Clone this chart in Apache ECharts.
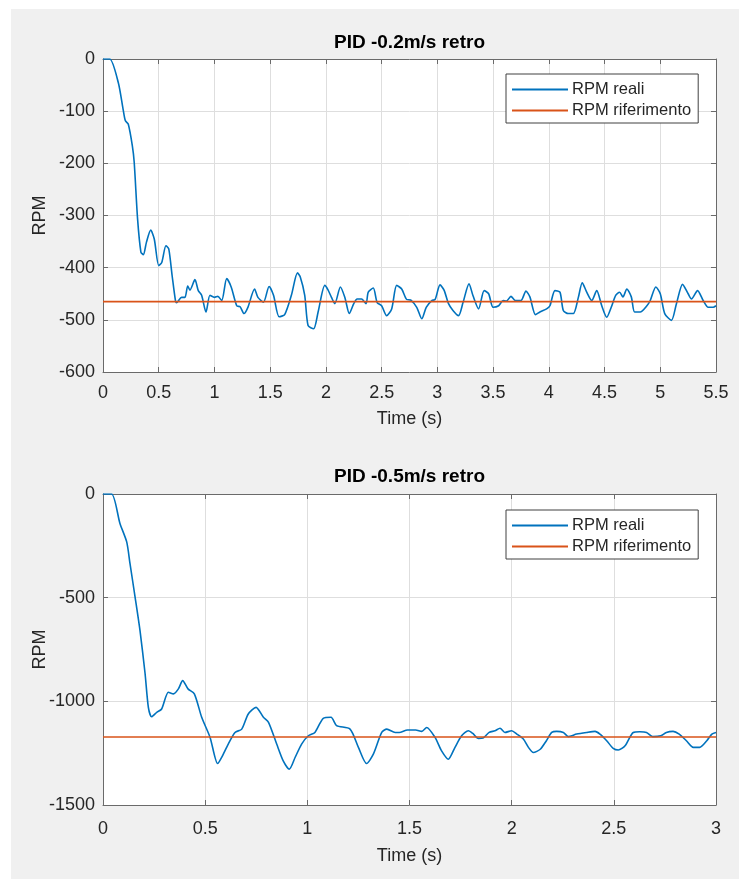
<!DOCTYPE html>
<html>
<head>
<meta charset="utf-8">
<script src="https://cdn.jsdelivr.net/npm/echarts@6/dist/echarts.min.js"></script>
<style>
  html, body { margin: 0; padding: 0; background: #ffffff; }
  #wrap { position: relative; width: 739px; height: 879px; background: #ffffff; overflow: hidden; }
  #bg { position: absolute; left: 11px; top: 9px; width: 728px; height: 870px; background: #f0f0f0; }
  #chart { position: absolute; left: 0; top: 0; width: 739px; height: 879px; }
</style>
</head>
<body>
<div id="wrap"><div id="bg"></div><div id="chart"></div></div>
<script>
// ---- Top chart: PID -0.2m/s retro ----
const topTitle = 'PID -0.2m/s retro';
const topTime = [0,0.06,0.137,0.18,0.20,0.227,0.263,0.28,0.31,0.34,0.362,0.39,0.428,0.46,0.50,0.527,0.565,0.59,0.62,0.65,0.66,0.705,0.735,0.76,0.78,0.825,0.855,0.885,0.924,0.96,1.0,1.03,1.065,1.11,1.15,1.2,1.23,1.265,1.30,1.36,1.39,1.44,1.49,1.53,1.58,1.63,1.69,1.745,1.77,1.81,1.84,1.89,1.93,1.99,2.02,2.05,2.08,2.13,2.17,2.21,2.25,2.28,2.32,2.36,2.38,2.425,2.46,2.5,2.545,2.59,2.635,2.68,2.725,2.76,2.815,2.86,2.9,2.95,2.98,3.024,3.06,3.1,3.14,3.19,3.23,3.284,3.32,3.37,3.42,3.46,3.50,3.55,3.59,3.62,3.66,3.70,3.75,3.795,3.83,3.88,3.92,3.98,4.01,4.055,4.1,4.13,4.175,4.22,4.265,4.30,4.34,4.385,4.43,4.475,4.52,4.56,4.60,4.635,4.665,4.70,4.74,4.77,4.82,4.88,4.91,4.96,5.0,5.04,5.10,5.145,5.20,5.25,5.28,5.335,5.385,5.43,5.475,5.50];
const topRpm = [0,0,-45,-96,-118,-125,-166,-198,-306,-370,-375,-351,-328,-345,-396,-390,-358,-364,-415,-463,-467,-457,-457,-435,-443,-423,-444,-453,-485,-453,-457,-455,-463,-421,-437,-473,-475,-488,-476,-441,-457,-466,-436,-453,-494,-490,-453,-410,-418,-453,-511,-517,-485,-434,-443,-457,-469,-437,-457,-488,-469,-460,-460,-469,-447,-439,-467,-473,-492,-479,-434,-441,-461,-462,-476,-498,-476,-463,-461,-433,-443,-469,-482,-492,-467,-431,-454,-479,-444,-450,-476,-473,-463,-464,-455,-463,-463,-445,-456,-490,-485,-479,-473,-444,-447,-482,-488,-488,-457,-429,-447,-463,-444,-473,-495,-476,-453,-447,-456,-441,-456,-485,-485,-473,-463,-437,-450,-488,-501,-469,-432,-450,-460,-444,-463,-476,-476,-473];
const topRefTime = [0, 5.5];
const topRefRpm = [-465, -465];
const topXTicks = { min: 0, max: 5.5, step: 0.5 };
const topYTicks = { min: -600, max: 0, step: 100 };

// ---- Bottom chart: PID -0.5m/s retro ----
const botTitle = 'PID -0.5m/s retro';
const botTime = [0,0.042,0.083,0.116,0.132,0.157,0.181,0.206,0.222,0.238,0.263,0.287,0.32,0.345,0.369,0.39,0.416,0.447,0.483,0.524,0.561,0.58,0.613,0.646,0.679,0.711,0.749,0.785,0.81,0.85,0.882,0.912,0.94,0.972,1.005,1.037,1.078,1.116,1.143,1.209,1.25,1.29,1.323,1.364,1.389,1.43,1.45,1.49,1.53,1.56,1.584,1.625,1.657,1.69,1.722,1.755,1.788,1.81,1.837,1.86,1.89,1.918,1.943,1.967,2.0,2.025,2.057,2.082,2.106,2.14,2.17,2.196,2.22,2.253,2.277,2.318,2.367,2.408,2.432,2.465,2.497,2.522,2.555,2.595,2.627,2.66,2.69,2.73,2.757,2.79,2.82,2.855,2.889,2.92,2.955,2.98,3.0];
const botRpm = [0,0,-142,-231,-335,-497,-658,-867,-1029,-1074,-1053,-1037,-956,-964,-940,-900,-940,-964,-1077,-1174,-1300,-1271,-1206,-1150,-1134,-1061,-1029,-1077,-1101,-1206,-1287,-1327,-1271,-1206,-1166,-1150,-1082,-1077,-1117,-1134,-1222,-1300,-1255,-1150,-1134,-1150,-1150,-1138,-1138,-1145,-1126,-1174,-1239,-1279,-1223,-1166,-1142,-1155,-1179,-1177,-1150,-1142,-1130,-1150,-1142,-1158,-1182,-1222,-1247,-1231,-1190,-1150,-1145,-1150,-1170,-1158,-1150,-1145,-1158,-1190,-1227,-1235,-1214,-1150,-1147,-1150,-1170,-1166,-1150,-1145,-1158,-1190,-1222,-1222,-1190,-1158,-1150];
const botRefTime = [0, 3];
const botRefRpm = [-1172, -1172];
const botXTicks = { min: 0, max: 3, step: 0.5 };
const botYTicks = { min: -1500, max: 0, step: 500 };

const seriesNames = ['RPM reali', 'RPM riferimento'];
const xName = 'Time (s)';
const yName = 'RPM';

const BLUE = '#0072BD', ORANGE = '#D95319';
const AXIS = '#6a6a6a', TEXT = '#262626', GRIDC = '#dedede';
const FONT = '"Liberation Sans", Arial, sans-serif';

const zip = (a, b) => a.map((v, i) => [v, b[i]]);
const plain = v => String(v);

const grids = [
  { left: 103, right: 23, top: 59, height: 313 },
  { left: 103, right: 23, top: 494, height: 311 }
];

function mainX(gi, t, margin, gap) {
  return {
    type: 'value', gridIndex: gi, min: t.min, max: t.max, interval: t.step,
    name: xName, nameLocation: 'middle', nameGap: gap, nameMoveOverlap: false,
    nameTextStyle: { fontFamily: FONT, fontSize: 18, color: TEXT },
    axisLine: { show: true, onZero: false, lineStyle: { color: AXIS, width: 1 } },
    axisTick: { show: true, inside: true, length: 5, lineStyle: { color: AXIS } },
    axisLabel: { fontFamily: FONT, fontSize: 18, color: TEXT, margin: margin, formatter: plain },
    splitLine: { show: true, lineStyle: { color: GRIDC, width: 1 } }
  };
}
function topX(gi, t) {
  return {
    type: 'value', gridIndex: gi, position: 'top', min: t.min, max: t.max, interval: t.step,
    axisLine: { show: true, onZero: false, lineStyle: { color: AXIS, width: 1 } },
    axisTick: { show: true, inside: true, length: 5, lineStyle: { color: AXIS } },
    axisLabel: { show: false }, splitLine: { show: false }
  };
}
function mainY(gi, t) {
  return {
    type: 'value', gridIndex: gi, min: t.min, max: t.max, interval: t.step,
    name: yName, nameLocation: 'middle', nameGap: 54, nameRotate: 90, nameMoveOverlap: false,
    nameTextStyle: { fontFamily: FONT, fontSize: 18, color: TEXT },
    axisLine: { show: true, onZero: false, lineStyle: { color: AXIS, width: 1 } },
    axisTick: { show: true, inside: true, length: 5, lineStyle: { color: AXIS } },
    axisLabel: { fontFamily: FONT, fontSize: 18, color: TEXT, margin: 8, formatter: plain },
    splitLine: { show: true, lineStyle: { color: GRIDC, width: 1 } }
  };
}
function rightY(gi, t) {
  return {
    type: 'value', gridIndex: gi, position: 'right', min: t.min, max: t.max, interval: t.step,
    axisLine: { show: true, onZero: false, lineStyle: { color: AXIS, width: 1 } },
    axisTick: { show: true, inside: true, length: 5, lineStyle: { color: AXIS } },
    axisLabel: { show: false }, splitLine: { show: false }
  };
}

function legendAt(top) {
  return {
    orient: 'vertical', left: 506, top: top,
    data: seriesNames.map(n => ({ name: n, icon: 'rect' })),
    itemWidth: 56, itemHeight: 2, itemGap: 4,
    padding: [7, 7, 4, 6],
    backgroundColor: '#ffffff', borderColor: '#404040', borderWidth: 1,
    textStyle: { fontFamily: FONT, fontSize: 16.5, color: TEXT, padding: [0, 0, 0, -1] },
    selectedMode: false
  };
}

function lineSeries(name, xi, data, color) {
  return {
    name: name, type: 'line', xAxisIndex: xi, yAxisIndex: xi,
    data: data, showSymbol: false, symbol: 'none', smooth: 0.25,
    lineStyle: { color: color, width: 1.6 }, itemStyle: { color: color },
    animation: false, silent: true
  };
}

const chart = echarts.init(document.getElementById('chart'), null, { renderer: 'canvas' });
chart.setOption({
  animation: false,
  backgroundColor: 'transparent',
  title: [
    { text: topTitle, left: 409.5, top: 33, textAlign: 'center', padding: 0,
      textStyle: { fontFamily: FONT, fontSize: 19, fontWeight: 'bold', color: '#000' } },
    { text: botTitle, left: 409.5, top: 467, textAlign: 'center', padding: 0,
      textStyle: { fontFamily: FONT, fontSize: 19, fontWeight: 'bold', color: '#000' } }
  ],
  legend: [legendAt(74), legendAt(510)],
  grid: grids.map(g => Object.assign({ show: true, backgroundColor: '#ffffff', borderWidth: 0 }, g)),
  xAxis: [mainX(0, topXTicks, 12, 38), mainX(1, botXTicks, 15, 42), topX(0, topXTicks), topX(1, botXTicks)],
  yAxis: [mainY(0, topYTicks), mainY(1, botYTicks), rightY(0, topYTicks), rightY(1, botYTicks)],
  series: [
    lineSeries(seriesNames[0], 0, zip(topTime, topRpm), BLUE),
    Object.assign(lineSeries(seriesNames[1], 0, zip(topRefTime, topRefRpm), ORANGE), { smooth: false }),
    lineSeries(seriesNames[0], 1, zip(botTime, botRpm), BLUE),
    Object.assign(lineSeries(seriesNames[1], 1, zip(botRefTime, botRefRpm), ORANGE), { smooth: false })
  ]
});
</script>
</body>
</html>
